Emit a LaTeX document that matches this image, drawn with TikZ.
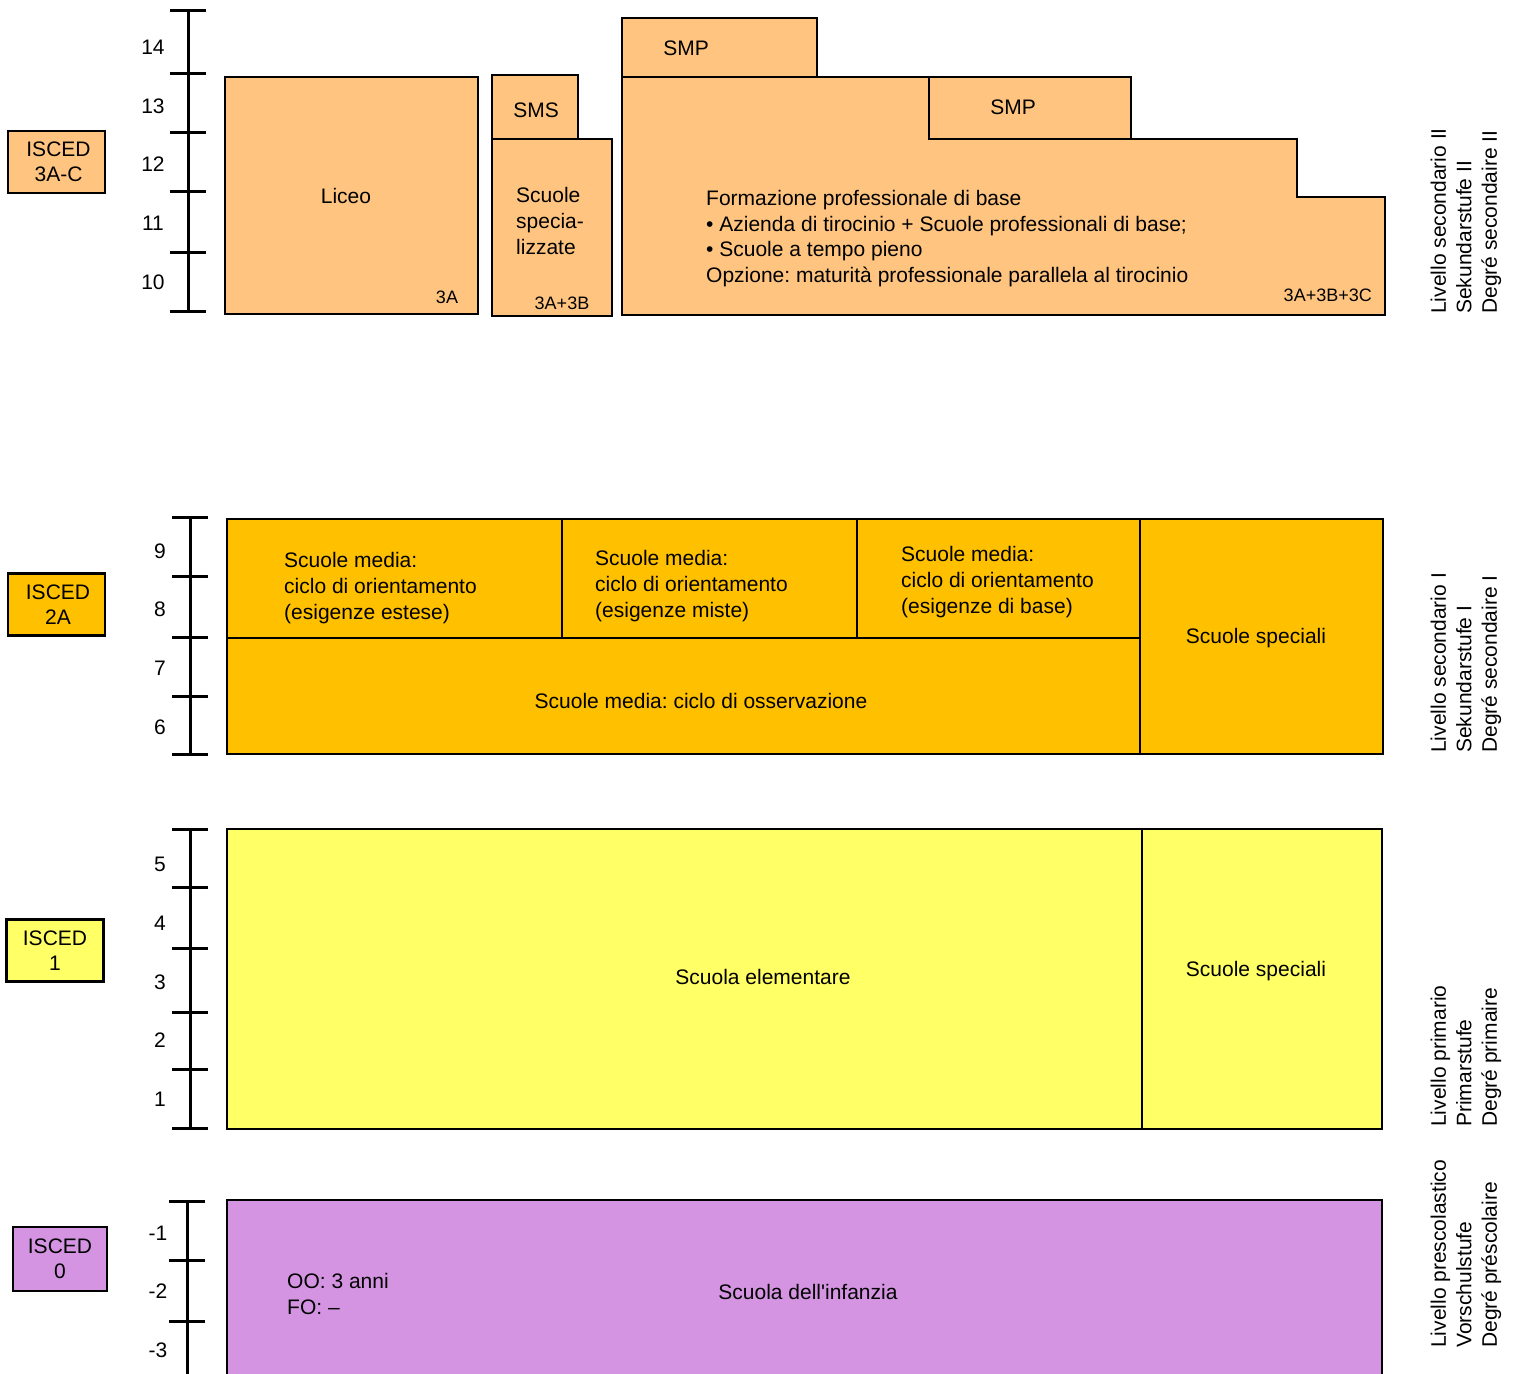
\documentclass[tikz,border=0pt]{standalone}
\usepackage{fontspec}
\setmainfont{Liberation Sans}
\definecolor{oranL}{RGB}{255,197,128}
\definecolor{amber}{RGB}{255,192,0}
\definecolor{yel}{RGB}{255,255,102}
\definecolor{vio}{RGB}{212,148,226}
\frenchspacing
\begin{document}
\begin{tikzpicture}[x=1pt,y=-1pt,
  box/.style={draw=black, line width=2.6pt, line join=miter},
  sep/.style={draw=black, line width=2.2pt},
  scl/.style={draw=black, line width=3pt},
  txt/.style={inner sep=0pt, font=\fontsize{21}{25.7}\selectfont},
  small/.style={inner sep=0pt, font=\fontsize{18}{20}\selectfont},
  isced/.style={draw=black, line width=2.6pt, inner sep=0pt, align=center,
     minimum width=97pt, minimum height=62pt, font=\fontsize{21}{25}\selectfont},
  side/.style={inner sep=0pt, rotate=90, anchor=west, align=left,
     font=\fontsize{21}{25.5}\selectfont}]
\useasboundingbox (0,0) rectangle (1516,1374);
\clip (0,0) rectangle (1516,1374);

% ---------------- ISCED 3 ----------------
\draw[scl] (188,10) -- (188,311);
\foreach \y in {10,73,132,191,252,311} \draw[scl] (170,\y) -- (206,\y);
\node[txt] (t14) at (153,47) {14};
\node[txt] (t13) at (153,106) {13};
\node[txt] (t12) at (153,164) {12};
\node[txt] (t11) at (153,223) {11};
\node[txt] (t10) at (153,282) {10};
\node[isced, fill=oranL] (is3) at (56.5,162) {\hspace*{4pt}ISCED\\\hspace*{4pt}3A-C};

\draw[box, fill=oranL] (225,77) rectangle (478,314);
\node[txt] (liceo) at (346,196) {Liceo};
\node[small] (l3a) at (447,297) {3A};

\draw[box, fill=oranL] (492,75) rectangle (578,139);
\node[txt] (sms) at (536,110) {SMS};
\draw[box, fill=oranL] (492,139) rectangle (612,316);
\node[txt, anchor=west, align=left] (spec) at (516,221) {Scuole\\specia-\\lizzate};
\node[small] (s3ab) at (562,303) {3A+3B};

\draw[box, fill=oranL] (622,77) -- (1131,77) -- (1131,139) -- (1297,139) -- (1297,197)
  -- (1385,197) -- (1385,315) -- (622,315) -- cycle;
\draw[box, fill=oranL] (622,18) rectangle (817,77);
\draw[box, fill=oranL] (929,77) rectangle (1131,139);
\node[txt] (smp1) at (686,48) {SMP};
\node[txt] (smp2) at (1013,107) {SMP};
\node[txt, anchor=west, align=left] (form) at (706,238.5) {Formazione professionale di base\\
  • Azienda di tirocinio + Scuole professionali di base;\\
  • Scuole a tempo pieno\\
  Opzione: maturità professionale parallela al tirocinio};
\node[small, anchor=east] (f3abc) at (1372,295) {3A+3B+3C};

\node[side] (side3) at (1466,314) {Livello secondario II\\Sekundarstufe II\\Degré secondaire II};

% ---------------- ISCED 2 ----------------
\draw[scl] (190,517) -- (190,754);
\foreach \y in {517,576,637,696,754} \draw[scl] (172,\y) -- (208,\y);
\node[txt] (t9) at (160,551) {9};
\node[txt] (t8) at (160,609) {8};
\node[txt] (t7) at (160,668) {7};
\node[txt] (t6) at (160,727) {6};
\node[isced, fill=amber] (is2) at (56.5,604.5) {\hspace*{3pt}ISCED\\\hspace*{3pt}2A};

\draw[box, fill=amber] (227,519) rectangle (1383,754);
\draw[sep] (227,638) -- (1140,638);
\draw[sep] (1140,519) -- (1140,754);
\draw[sep] (562,519) -- (562,638);
\draw[sep] (857,519) -- (857,638);
\node[txt, anchor=west, align=left] (m1) at (284,588) {Scuole media:\\ciclo di orientamento\\(esigenze estese)};
\node[txt, anchor=west, align=left] (m2) at (595,586) {Scuole media:\\ciclo di orientamento\\(esigenze miste)};
\node[txt, anchor=west, align=left] (m3) at (901,582) {Scuole media:\\ciclo di orientamento\\(esigenze di base)};
\node[txt] (oss) at (701,701) {Scuole media: ciclo di osservazione};
\node[txt] (sp2) at (1256,638) {Scuole speciali};

\node[side] (side2) at (1466,753) {Livello secondario I\\Sekundarstufe I\\Degré secondaire I};

% ---------------- ISCED 1 ----------------
\draw[scl] (190,829) -- (190,1128);
\foreach \y in {829,887,948,1012,1069,1128} \draw[scl] (172,\y) -- (208,\y);
\node[txt] (t5) at (160,864) {5};
\node[txt] (t4) at (160,923) {4};
\node[txt] (t3) at (160,982) {3};
\node[txt] (t2) at (160,1040) {2};
\node[txt] (t1) at (160,1099) {1};
\node[isced, fill=yel] (is1) at (55,950.5) {ISCED\\1};

\draw[box, fill=yel] (227,829) rectangle (1382,1129);
\draw[sep] (1142,829) -- (1142,1129);
\node[txt] (elem) at (763,977) {Scuola elementare};
\node[txt] (sp1) at (1256,971) {Scuole speciali};

\node[side] (side1) at (1466,1127) {Livello primario\\Primarstufe\\Degré primaire};

% ---------------- ISCED 0 ----------------
\draw[scl] (187,1201) -- (187,1380);
\foreach \y in {1201,1260,1321} \draw[scl] (169,\y) -- (205,\y);
\node[txt] (tm1) at (158,1233) {-1};
\node[txt] (tm2) at (158,1291) {-2};
\node[txt] (tm3) at (158,1350) {-3};
\node[isced, fill=vio, minimum width=94pt, minimum height=64pt] (is0) at (60,1259) {ISCED\\0};

\draw[box, fill=vio] (227,1200) rectangle (1382,1390);
\node[txt, anchor=west, align=left] (oo) at (287,1294) {OO: 3 anni\\FO: –};
\node[txt] (inf) at (808,1292) {Scuola dell\textquotesingle infanzia};

\node[side] (side0) at (1466,1348) {Livello prescolastico\\Vorschulstufe\\Degré préscolaire};
\end{tikzpicture}
\end{document}
